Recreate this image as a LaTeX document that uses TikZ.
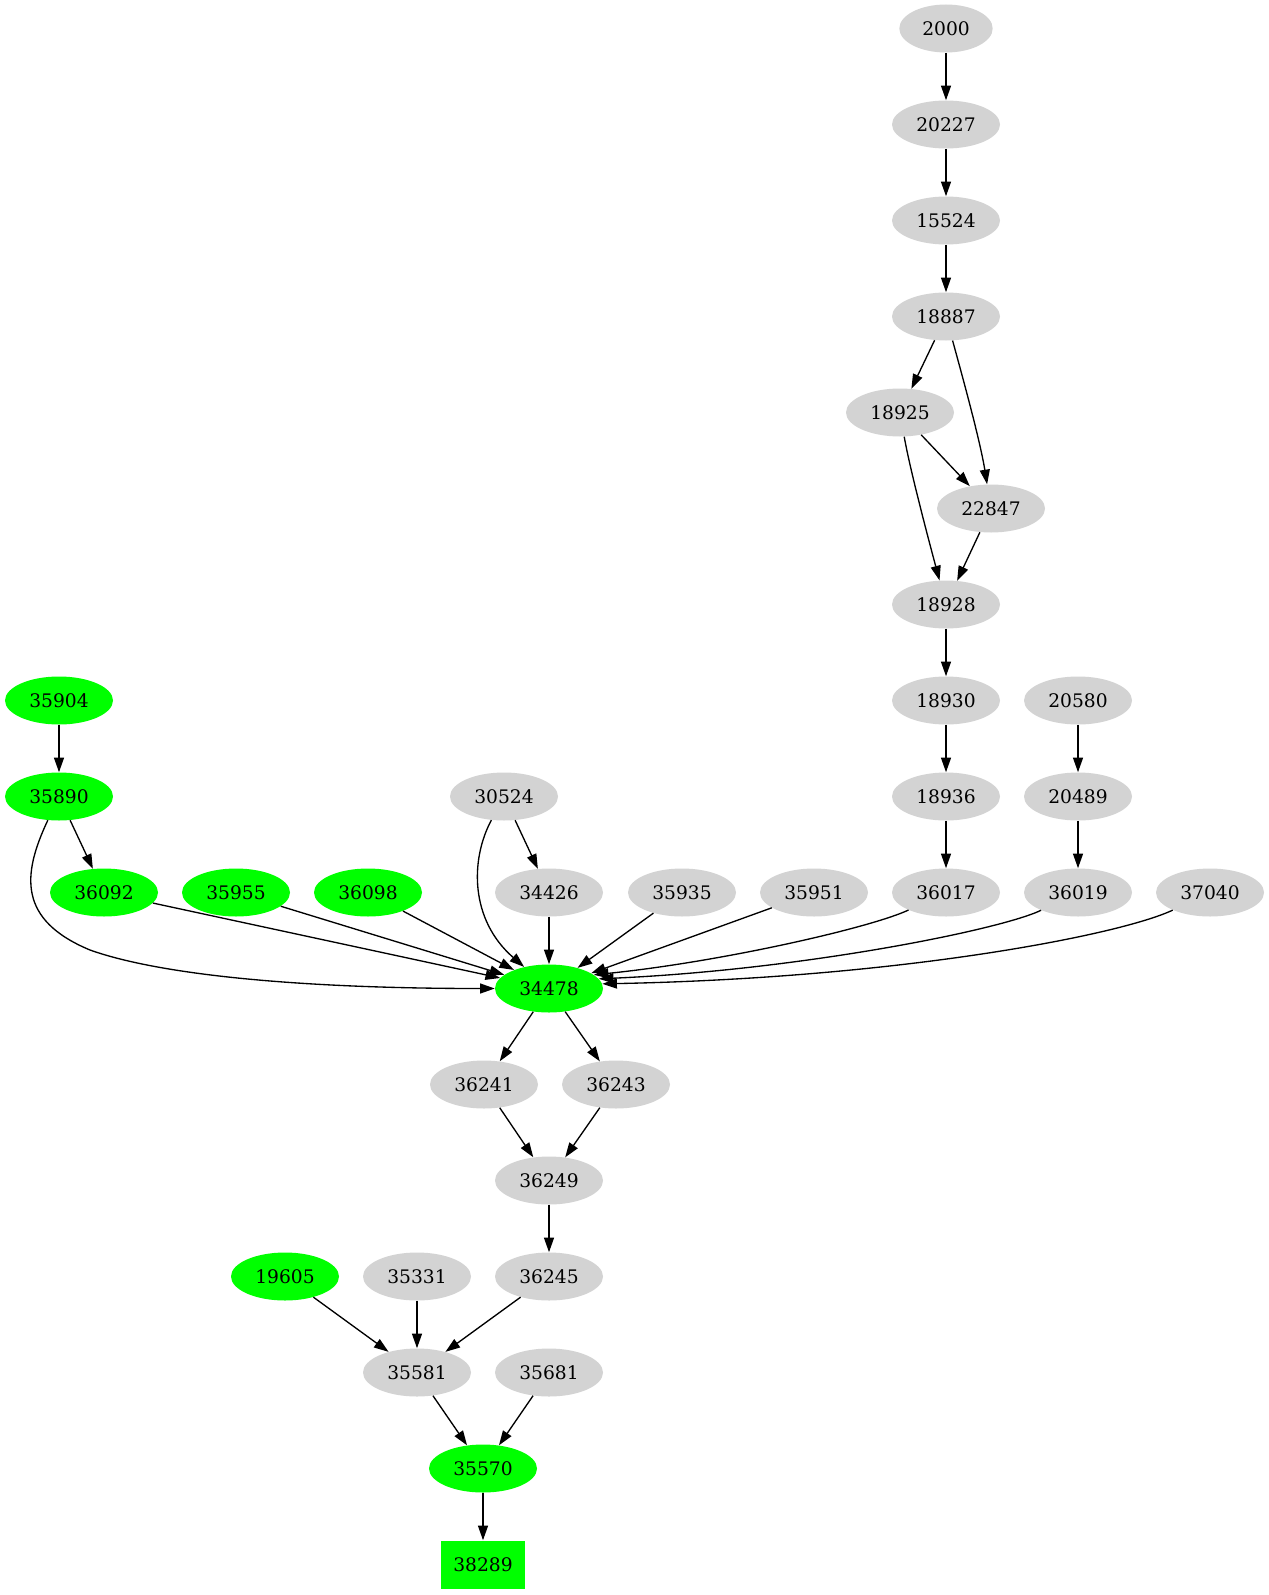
\documentclass[tikz,border=0pt]{standalone}
\usepackage{fontspec}
\setmainfont{DejaVu Serif}
\usetikzlibrary{shapes.geometric,arrows.meta}
\definecolor{litgreen}{RGB}{0,255,0}
\definecolor{ltgray}{RGB}{211,211,211}
\begin{document}
\begin{tikzpicture}[x=0.75bp,y=-0.75bp,
  every node/.style={font=\fontsize{14bp}{16bp}\selectfont,inner sep=0pt},
  plain/.style={ellipse,fill=ltgray,minimum width=81bp,minimum height=36bp},
  hit/.style={plain,fill=litgreen},
  box/.style={rectangle,fill=litgreen,minimum width=63bp,minimum height=36bp},
  edge/.style={-{Triangle[length=11bp,width=7.5bp]},line width=1bp}]
\useasboundingbox (0,0) rectangle (1269,1595);
% chain at the top
\node[plain,minimum width=70bp] (n2000) at (946,28.5) {2000};
\node[plain] (n20227) at (946,124.5) {20227};
\node[plain] (n15524) at (946,220.5) {15524};
\node[plain] (n18887) at (946,316.5) {18887};
\node[plain] (n18925) at (900,412.5) {18925};
\node[plain] (n22847) at (991,508.5) {22847};
\node[plain] (n18928) at (946,604.5) {18928};
\node[hit] (n35904) at (59,700.5) {35904};
\node[plain] (n18930) at (946,700.5) {18930};
\node[plain] (n20580) at (1078,700.5) {20580};
\node[hit] (n35890) at (59,796.5) {35890};
\node[plain] (n30524) at (504,796.5) {30524};
\node[plain] (n18936) at (946,796.5) {18936};
\node[plain] (n20489) at (1078,796.5) {20489};
% the row feeding 34478
\node[hit] (n36092) at (104,892.5) {36092};
\node[hit] (n35955) at (236,892.5) {35955};
\node[hit] (n36098) at (368,892.5) {36098};
\node[plain] (n34426) at (549,892.5) {34426};
\node[plain] (n35935) at (682,892.5) {35935};
\node[plain] (n35951) at (814,892.5) {35951};
\node[plain] (n36017) at (946,892.5) {36017};
\node[plain] (n36019) at (1078,892.5) {36019};
\node[plain] (n37040) at (1210,892.5) {37040};
\node[hit] (n34478) at (549,988.5) {34478};
\node[plain] (n36241) at (484,1084.5) {36241};
\node[plain] (n36243) at (616,1084.5) {36243};
\node[plain] (n36249) at (549,1180.5) {36249};
\node[hit] (n19605) at (285,1276.5) {19605};
\node[plain] (n35331) at (417,1276.5) {35331};
\node[plain] (n36245) at (549,1276.5) {36245};
\node[plain] (n35581) at (417,1372.5) {35581};
\node[plain] (n35681) at (549,1372.5) {35681};
\node[hit] (n35570) at (483,1468.5) {35570};
\node[box] (n38289) at (483,1564.5) {38289};

\draw[edge] (n2000) -- (n20227);
\draw[edge] (n20227) -- (n15524);
\draw[edge] (n15524) -- (n18887);
\draw[edge] (n18887) -- (n18925);
\draw[edge] (n18887) .. controls (962,375) and (980,440) .. (n22847);
\draw[edge] (n18925) -- (n22847);
\draw[edge] (n18925) .. controls (910,470) and (930,545) .. (n18928);
\draw[edge] (n22847) -- (n18928);
\draw[edge] (n18928) -- (n18930);
\draw[edge] (n18930) -- (n18936);
\draw[edge] (n18936) -- (n36017);
\draw[edge] (n20580) -- (n20489);
\draw[edge] (n20489) -- (n36019);
\draw[edge] (n35904) -- (n35890);
\draw[edge] (n35890) -- (n36092);
\draw[edge] (n35890) .. controls (22,875) and (18,920) .. (90,950)
  .. controls (160,975) and (300,988.5) .. (n34478);
\draw[edge] (n30524) -- (n34426);
\draw[edge] (n30524) .. controls (470,860) and (470,920) .. (n34478);
\draw[edge] (n36092) -- (n34478);
\draw[edge] (n35955) -- (n34478);
\draw[edge] (n36098) -- (n34478);
\draw[edge] (n34426) -- (n34478);
\draw[edge] (n35935) -- (n34478);
\draw[edge] (n35951) -- (n34478);
\draw[edge] (n36017) .. controls (870,928) and (720,962) .. (n34478.17);
\draw[edge] (n36019) .. controls (1000,930) and (800,970) .. (n34478.11);
\draw[edge] (n37040) .. controls (1120,935) and (900,978) .. (n34478.5);
\draw[edge] (n34478) -- (n36241);
\draw[edge] (n34478) -- (n36243);
\draw[edge] (n36241) -- (n36249);
\draw[edge] (n36243) -- (n36249);
\draw[edge] (n36249) -- (n36245);
\draw[edge] (n19605) -- (n35581);
\draw[edge] (n35331) -- (n35581);
\draw[edge] (n36245) -- (n35581);
\draw[edge] (n35581) -- (n35570);
\draw[edge] (n35681) -- (n35570);
\draw[edge] (n35570) -- (n38289);
\end{tikzpicture}
\end{document}
